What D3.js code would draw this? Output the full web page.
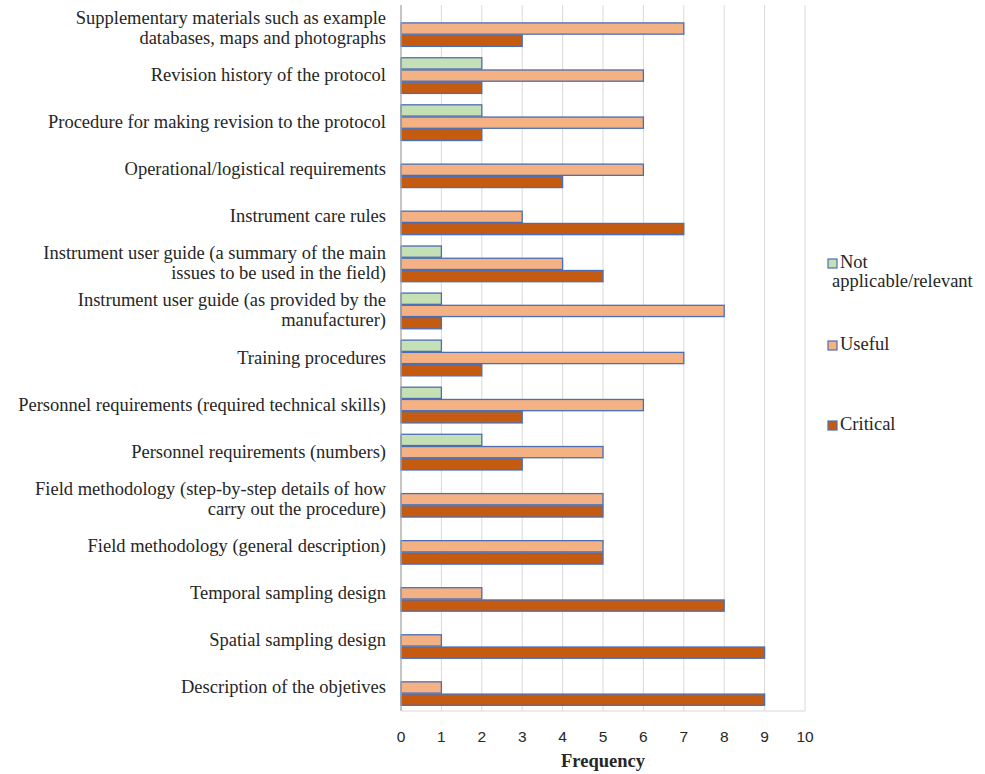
<!DOCTYPE html>
<html>
<head>
<meta charset="utf-8">
<script src="https://cdn.jsdelivr.net/npm/d3@7"></script>
<style>
	body { margin: 0; background: #fff; }
	svg text { fill: #262626; }
</style>
</head>
<body>
<svg id="chart" width="985" height="774"></svg>
<script>
// categories top to bottom, '\n' marks a line break in the label
let categories = [
	'Supplementary materials such as example\ndatabases, maps and photographs',
	'Revision history of the protocol',
	'Procedure for making revision to the protocol',
	'Operational/logistical requirements',
	'Instrument care rules',
	'Instrument user guide (a summary of the main\nissues to be used in the field)',
	'Instrument user guide (as provided by the\nmanufacturer)',
	'Training procedures',
	'Personnel requirements (required technical skills)',
	'Personnel requirements (numbers)',
	'Field methodology (step-by-step details of how\ncarry out the procedure)',
	'Field methodology (general description)',
	'Temporal sampling design',
	'Spatial sampling design',
	'Description of the objetives'
];
let notApplicable = [0, 2, 2, 0, 0, 1, 1, 1, 1, 2, 0, 0, 0, 0, 0];
let useful        = [7, 6, 6, 6, 3, 4, 8, 7, 6, 5, 5, 5, 2, 1, 1];
let critical      = [3, 2, 2, 4, 7, 5, 1, 2, 3, 3, 5, 5, 8, 9, 9];
let seriesNames = ['Not applicable/relevant', 'Useful', 'Critical'];
let seriesColors = ['#c5e0b4', '#f4b183', '#c55a11'];
let xTicks = [0, 1, 2, 3, 4, 5, 6, 7, 8, 9, 10];

let svg = d3.select('#chart');
let plotL = 401, plotR = 805, plotT = 5, plotB = 711;
let serif = '"Liberation Serif", "Times New Roman", serif';

let x = d3.scaleLinear().domain([0, 10]).range([plotL, plotR]);
let y = d3.scaleBand().domain(d3.range(categories.length)).range([plotT, plotB]).paddingInner(0.22).paddingOuter(0.11);
let sub = d3.scaleBand().domain([0, 1, 2]).range([0, y.bandwidth()]);

// gridlines
svg.append('g').selectAll('line').data(xTicks.slice(1)).join('line')
	.attr('x1', d => x(d)).attr('x2', d => x(d))
	.attr('y1', plotT).attr('y2', plotB)
	.style('stroke', '#d9d9d9').style('stroke-width', 1);

// bars
let rows = categories.map((c, i) => [notApplicable[i], useful[i], critical[i]]);
let groups = svg.append('g').selectAll('g').data(rows).join('g')
	.attr('transform', (d, i) => 'translate(0,' + y(i) + ')');
groups.selectAll('rect').data(d => d.map((v, s) => ({v: v, s: s})).filter(e => e.v > 0)).join('rect')
	.attr('x', x(0))
	.attr('y', d => sub(d.s) + 0.5)
	.attr('width', d => x(d.v) - x(0))
	.attr('height', sub.bandwidth() - 1)
	.style('fill', d => seriesColors[d.s])
	.style('stroke', '#4a6fb5')
	.style('stroke-width', 1.3);

// axis lines
svg.append('line').attr('x1', plotL).attr('x2', plotL).attr('y1', plotT).attr('y2', plotB)
	.style('stroke', '#a6a6a6').style('stroke-width', 1.3);
svg.append('line').attr('x1', plotL).attr('x2', plotR).attr('y1', plotB).attr('y2', plotB)
	.style('stroke', '#d9d9d9').style('stroke-width', 1);

// x tick labels
svg.append('g').selectAll('text').data(xTicks).join('text')
	.attr('x', d => x(d)).attr('y', 742)
	.attr('text-anchor', 'middle')
	.style('font-family', '"Liberation Sans", Arial, sans-serif').style('font-size', '15.5px')
	.text(d => d);
svg.append('text').attr('x', 603).attr('y', 767).attr('text-anchor', 'middle')
	.style('font-family', serif).style('font-size', '18.5px').style('font-weight', 'bold')
	.text('Frequency');

// category labels
let labels = svg.append('g').selectAll('text').data(categories).join('text')
	.attr('text-anchor', 'end')
	.style('font-family', serif).style('font-size', '18.5px');
labels.each(function(d, i) {
	let lines = d.split('\n');
	let cy = y(i) + y.bandwidth() / 2;
	d3.select(this).selectAll('tspan').data(lines).join('tspan')
		.attr('x', 386)
		.attr('y', (l, j) => cy + 5.5 + (j - (lines.length - 1) / 2) * 20)
		.text(l => l);
});

// legend
let legY = [259, 341, 421];
let leg = svg.append('g').selectAll('g').data(seriesNames).join('g');
leg.append('rect')
	.attr('x', 828).attr('y', (d, i) => legY[i]).attr('width', 9).attr('height', 9)
	.style('fill', (d, i) => seriesColors[i]).style('stroke', '#4a6fb5').style('stroke-width', 1.2);
leg.append('text')
	.style('font-family', serif).style('font-size', '18.5px')
	.each(function(d, i) {
		let lines = i == 0 ? ['Not', 'applicable/relevant'] : [d];
		d3.select(this).selectAll('tspan').data(lines).join('tspan')
			.attr('x', (l, j) => j == 0 ? 840 : 832)
			.attr('y', (l, j) => legY[i] + 9 + j * 19)
			.text(l => l);
	});
</script>
</body>
</html>
